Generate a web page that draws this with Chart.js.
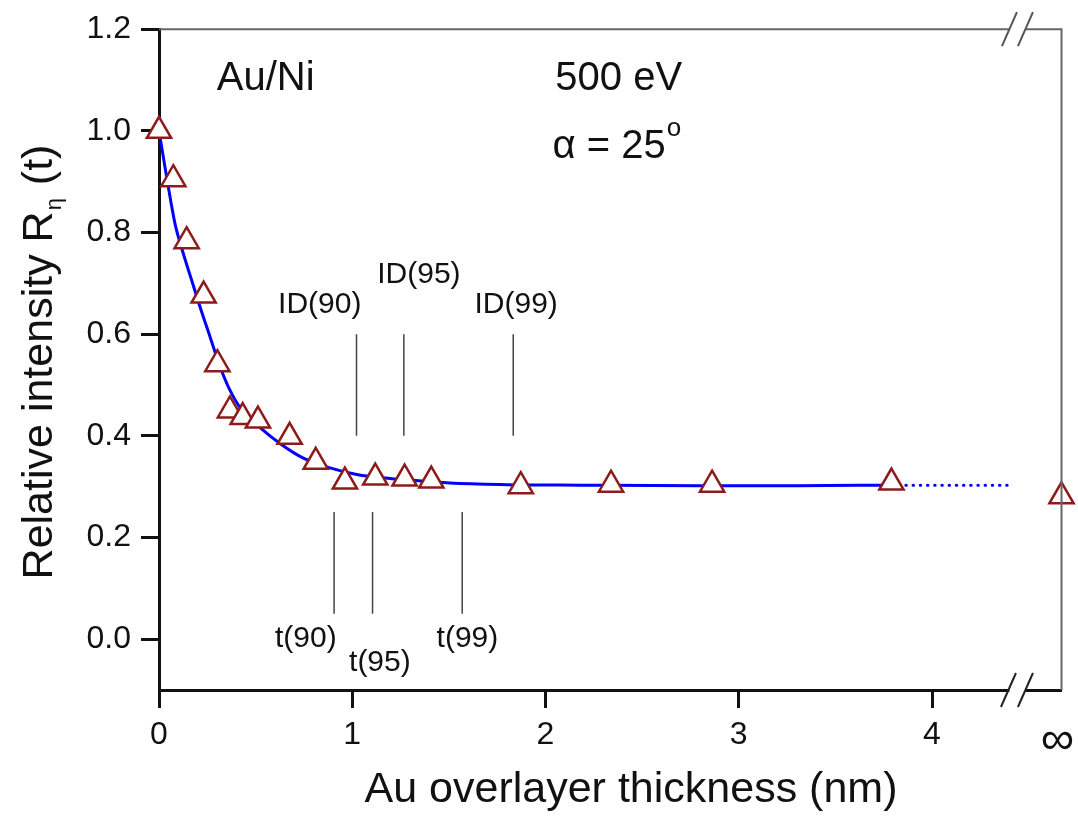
<!DOCTYPE html>
<html>
<head>
<meta charset="utf-8">
<script src="https://cdn.jsdelivr.net/npm/chart.js@4.4.1/dist/chart.umd.min.js"></script>
<style>
  body { margin: 0; background: #fff; }
  canvas { display: block; }
</style>
</head>
<body>
<canvas id="overlayerChart" width="1078" height="816"></canvas>
<script>
// measured points (triangles)
const pointX = [0, 0.074, 0.143, 0.231, 0.302, 0.367, 0.433, 0.512, 0.676, 0.811, 0.962, 1.119, 1.271, 1.409, 1.872, 2.339, 2.862, 3.79];
const pointY = [1.0, 0.905, 0.783, 0.676, 0.541, 0.450, 0.437, 0.430, 0.398, 0.349, 0.310, 0.318, 0.316, 0.312, 0.301, 0.304, 0.304, 0.308];

// value at infinite thickness
const infX = [4.67];
const infY = [0.281];

// fitted curve (solid part)
const curveX = [0, 0.04, 0.083, 0.116, 0.169, 0.212, 0.264, 0.316, 0.367, 0.428, 0.523, 0.626, 0.747, 0.885, 1.023, 1.195, 1.368, 1.506, 1.8, 2.18, 2.8, 3.3, 3.79];
const curveY = [1.0, 0.908, 0.817, 0.771, 0.706, 0.654, 0.595, 0.536, 0.490, 0.451, 0.416, 0.385, 0.356, 0.337, 0.324, 0.316, 0.311, 0.307, 0.304, 0.303, 0.302, 0.302, 0.303];

// dotted extension
const tailX = [3.79, 4.39];
const tailY = [0.303, 0.303];

// information depth markers
const idX = [1.022, 1.267, 1.833];
const idRange = [0.4, 0.6];
// thickness markers
const tX = [0.906, 1.105, 1.569];
const tRange = [0.05, 0.25];

const xTicks = [0, 1, 2, 3, 4];
const yTicks = [0, 0.2, 0.4, 0.6, 0.8, 1.0, 1.2];

// text labels: [text, x, y, size, align]
const labels = [
    ["Au/Ni", 0.299, 1.080, 40, "left"],
    ["500 eV", 2.051, 1.080, 40, "left"],
    ["ID(90)", 0.832, 0.641, 30, "center"],
    ["ID(95)", 1.345, 0.700, 30, "center"],
    ["ID(99)", 1.848, 0.641, 30, "center"],
    ["t(90)", 0.760, -0.016, 30, "center"],
    ["t(95)", 1.143, -0.063, 30, "center"],
    ["t(99)", 1.596, -0.016, 30, "center"],
];

const FONT = "'Liberation Sans', Arial, sans-serif";
const BREAK_X = 4.442;
const INF_LABEL_X = 4.649;

const toXY = (xs, ys) => xs.map((x, i) => ({ x: x, y: ys[i] }));

const markerSets = [];
idX.forEach((x) => {
    markerSets.push({
        data: [{ x: x, y: idRange[0] }, { x: x, y: idRange[1] }],
        showLine: true, borderColor: "#444", borderWidth: 1.5, pointRadius: 0,
    });
});
tX.forEach((x) => {
    markerSets.push({
        data: [{ x: x, y: tRange[0] }, { x: x, y: tRange[1] }],
        showLine: true, borderColor: "#444", borderWidth: 1.5, pointRadius: 0,
    });
});

const decorations = {
    id: "decorations",
    afterDraw(chart) {
        const ctx = chart.ctx;
        const a = chart.chartArea;
        const xs = chart.scales.x;
        const ys = chart.scales.y;
        const bx = xs.getPixelForValue(BREAK_X);

        ctx.save();
        // top and right frame
        ctx.strokeStyle = "#666";
        ctx.lineWidth = 2;
        ctx.beginPath();
        ctx.moveTo(a.left, a.top);
        ctx.lineTo(bx - 8, a.top);
        ctx.moveTo(bx + 8, a.top);
        ctx.lineTo(a.right, a.top);
        ctx.lineTo(a.right, a.bottom);
        ctx.stroke();

        // gap in bottom axis
        ctx.fillStyle = "#fff";
        ctx.fillRect(bx - 8, a.bottom - 3, 16, 6);

        // break marks
        const slash = (cx, cy, color) => {
            ctx.strokeStyle = color;
            ctx.lineWidth = 2;
            ctx.beginPath();
            ctx.moveTo(cx - 7.5, cy + 17);
            ctx.lineTo(cx + 7.5, cy - 17);
            ctx.stroke();
        };
        slash(bx - 8, a.top, "#555");
        slash(bx + 8, a.top, "#555");
        slash(bx - 9, a.bottom, "#222");
        slash(bx + 8, a.bottom, "#222");

        // infinity label on the broken axis
        ctx.fillStyle = "#111";
        ctx.textAlign = "center";
        ctx.textBaseline = "alphabetic";
        ctx.font = "47px " + FONT;
        ctx.fillText("∞", xs.getPixelForValue(INF_LABEL_X), a.bottom + 64);

        // text labels
        labels.forEach(([text, x, y, size, align]) => {
            ctx.font = size + "px " + FONT;
            ctx.textAlign = align;
            ctx.fillText(text, xs.getPixelForValue(x), ys.getPixelForValue(y));
        });

        // alpha = 25 degrees
        ctx.textAlign = "left";
        ctx.font = "40px " + FONT;
        const ax = xs.getPixelForValue(2.036);
        const ay = ys.getPixelForValue(0.947);
        const main = "α = 25";
        ctx.fillText(main, ax, ay);
        const mw = ctx.measureText(main).width;
        ctx.font = "26px " + FONT;
        ctx.fillText("o", ax + mw + 1, ay - 22);

        // x title
        ctx.font = "43px " + FONT;
        ctx.textAlign = "center";
        ctx.fillText("Au overlayer thickness (nm)", 631, 802);

        // y title with subscript
        ctx.translate(52, 362);
        ctx.rotate(-Math.PI / 2);
        ctx.textAlign = "left";
        ctx.font = "43px " + FONT;
        const p1 = "Relative intensity R";
        const p2 = " (t)";
        const w1 = ctx.measureText(p1).width;
        const w3 = ctx.measureText(p2).width;
        ctx.font = "22px " + FONT;
        const w2 = ctx.measureText("η").width + 2;
        let start = -(w1 + w2 + w3) / 2;
        ctx.font = "43px " + FONT;
        ctx.fillText(p1, start, 0);
        ctx.font = "22px " + FONT;
        ctx.fillText("η", start + w1 + 1, 9);
        ctx.font = "43px " + FONT;
        ctx.fillText(p2, start + w1 + w2, 0);
        ctx.restore();
    },
};

const ctx = document.getElementById("overlayerChart").getContext("2d");

window.overlayerChart = new Chart(ctx, {
    type: "scatter",
    data: {
        datasets: [
            {
                data: toXY(pointX, pointY),
                pointStyle: "triangle",
                pointRadius: 14,
                borderWidth: 2.5,
                borderColor: "#8c1c1c",
                backgroundColor: "#ffffff",
                clip: false,
            },
            {
                data: toXY(infX, infY),
                pointStyle: "triangle",
                pointRadius: 14,
                borderWidth: 2.5,
                borderColor: "#8c1c1c",
                backgroundColor: "#ffffff",
                clip: false,
            },
            {
                data: toXY(curveX, curveY),
                showLine: true,
                borderColor: "#0000ff",
                borderWidth: 3,
                pointRadius: 0,
                cubicInterpolationMode: "monotone",
            },
            {
                data: toXY(tailX, tailY),
                showLine: true,
                borderColor: "#0000ff",
                borderWidth: 3,
                borderDash: [0.5, 6.7],
                borderCapStyle: "round",
                pointRadius: 0,
            },
            ...markerSets,
        ],
    },
    options: {
        responsive: false,
        animation: false,
        events: [],
        layout: {
            padding: { left: 0, top: 28, right: 16, bottom: 0 },
        },
        plugins: {
            legend: { display: false },
            tooltip: { enabled: false },
        },
        scales: {
            x: {
                type: "linear",
                min: 0,
                max: 4.67,
                afterBuildTicks: (scale) => {
                    scale.ticks = xTicks.map((v) => ({ value: v }));
                },
                afterFit: (scale) => {
                    scale.height = 126;
                },
                border: { color: "#111", width: 3 },
                grid: {
                    drawOnChartArea: false,
                    tickLength: 18,
                    tickWidth: 3,
                    tickColor: "#111",
                },
                ticks: {
                    autoSkip: false,
                    maxRotation: 0,
                    padding: 8,
                    color: "#111",
                    font: { family: FONT, size: 32 },
                    callback: (v) => String(v),
                },
            },
            y: {
                min: -0.1,
                max: 1.2,
                afterBuildTicks: (scale) => {
                    scale.ticks = yTicks.map((v) => ({ value: v }));
                },
                afterFit: (scale) => {
                    scale.width = 159;
                },
                border: { color: "#111", width: 3 },
                grid: {
                    drawOnChartArea: false,
                    tickLength: 18,
                    tickWidth: 3,
                    tickColor: "#111",
                },
                ticks: {
                    padding: 10,
                    color: "#111",
                    font: { family: FONT, size: 32 },
                    callback: (v) => v.toFixed(1),
                },
            },
        },
    },
    plugins: [decorations],
});
</script>
</body>
</html>
